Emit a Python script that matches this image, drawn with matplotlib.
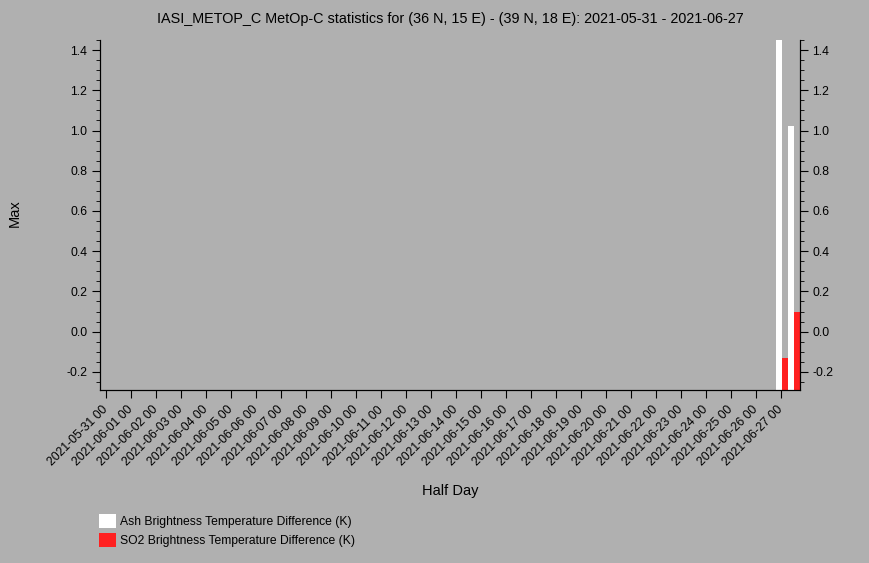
import numpy as np
import matplotlib
matplotlib.use('Agg')
import matplotlib.pyplot as plt
import matplotlib.dates as mdates
from matplotlib.patches import Patch
from matplotlib.ticker import FixedLocator, MultipleLocator, FormatStrFormatter
from datetime import datetime, timedelta

plt.rcParams['font.family'] = ['Liberation Sans', 'DejaVu Sans']

# data: only the last two half days carry values
start_day = '2021-05-31'
end_day = '2021-06-27'
half_day = ['2021-06-27 00', '2021-06-27 12']
ash_max = [1.60, 1.02]
so2_max = [-0.13, 0.10]
series_names = ['Ash Brightness Temperature Difference (K)',
                'SO2 Brightness Temperature Difference (K)']
series_colors = ['#ffffff', '#ff2020']

bg = '#b0b0b0'
ymin, ymax = -0.29, 1.45

t0 = datetime.strptime(start_day, '%Y-%m-%d')
t1 = datetime.strptime(end_day, '%Y-%m-%d')
x = np.array([mdates.date2num(datetime.strptime(h, '%Y-%m-%d %H')) for h in half_day])
w = 0.25

fig = plt.figure(figsize=(8.7, 5.63), dpi=100, facecolor=bg)
ax = fig.add_axes([100 / 870, 1 - 390 / 563, 700 / 870, 350 / 563])
ax.set_facecolor(bg)

# bars grow up from the bottom of the axis
for vals, off, col in [(ash_max, -w / 2 + 0.02, series_colors[0]),
                       (so2_max, w / 2 + 0.02, series_colors[1])]:
    vals = np.array(vals)
    ax.bar(x + off, vals - ymin, width=w, bottom=ymin, color=col, linewidth=0)

ax.set_ylim(ymin, ymax)
ax.set_xlim(mdates.date2num(t0) - 0.25, mdates.date2num(t1) + 0.75)

days = [mdates.date2num(t0 + timedelta(days=i)) for i in range((t1 - t0).days + 1)]
ax.xaxis.set_major_locator(FixedLocator(days))
ax.xaxis.set_major_formatter(mdates.DateFormatter('%Y-%m-%d %H'))

yt = np.round(np.arange(-0.2, 1.41, 0.2), 1)
ax.spines['top'].set_visible(False)
ax.tick_params(axis='x', which='major', length=6, labelsize=8.8, pad=7)

ax2 = ax.twinx()
ax2.spines['top'].set_visible(False)
for a in (ax, ax2):
    a.set_ylim(ymin, ymax)
    a.yaxis.set_major_locator(FixedLocator(yt))
    a.yaxis.set_minor_locator(MultipleLocator(0.05))
    a.yaxis.set_major_formatter(FormatStrFormatter('%.1f'))
    a.tick_params(axis='y', which='major', length=6, labelsize=8.8, pad=3)
    a.tick_params(axis='y', which='minor', length=3)

for lab in ax.get_xticklabels():
    lab.set_rotation(45)
    lab.set_ha('right')
    lab.set_va('center')
    lab.set_rotation_mode('anchor')

ax.set_title('IASI_METOP_C MetOp-C statistics for (36 N, 15 E) - (39 N, 18 E): 2021-05-31 - 2021-06-27',
             fontsize=10.4, pad=12)
fig.text(15 / 870, 1 - 213 / 563, 'Max', rotation=90, ha='center', va='center', fontsize=10.5)
fig.text(450 / 870, 1 - 491 / 563, 'Half Day', ha='center', va='center', fontsize=10.5)

handles = [Patch(facecolor=c, edgecolor='none') for c in series_colors]
fig.legend(handles, series_names, loc='upper left', bbox_to_anchor=(94.5 / 870, 1 - 509 / 563),
           frameon=False, fontsize=8.7, handlelength=1.4, handleheight=1.4,
           handletextpad=0.35, labelspacing=0.4, borderaxespad=0)

fig.savefig('out.png', dpi=100, facecolor=bg)
